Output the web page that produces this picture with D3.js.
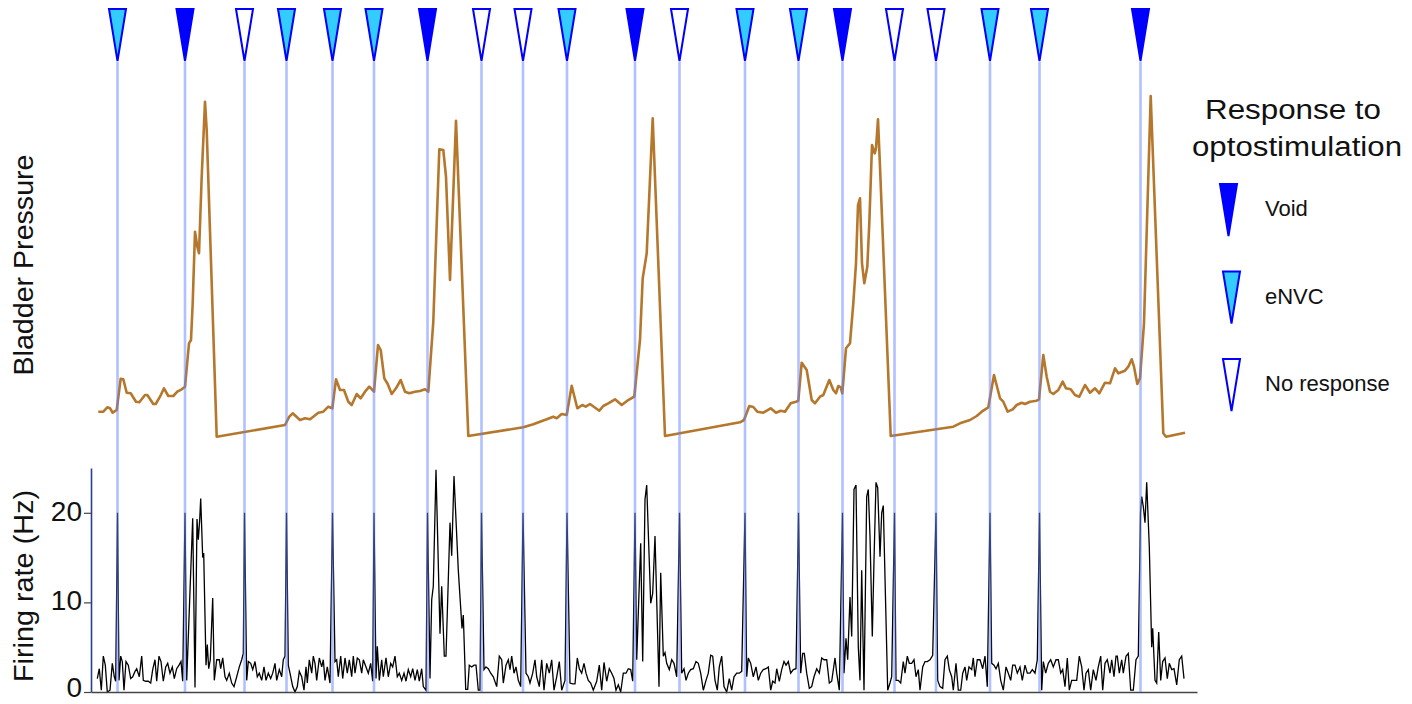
<!DOCTYPE html>
<html>
<head>
<meta charset="utf-8">
<script src="https://cdn.jsdelivr.net/npm/d3@7"></script>
<style>
  body { margin: 0; background: #fff; }
  svg { display: block; }
  text { font-family: "Liberation Sans", Arial, Helvetica, sans-serif; fill: #111; }
</style>
</head>
<body>
<svg width="1412" height="704"></svg>
<script>
// time in s from start of recording
const stimTimes = [26.5, 94, 153.5, 195.5, 241.5, 283, 336.5, 390.5, 432, 476,
    544, 588.5, 654, 707.5, 751.5, 803.5, 845, 899, 948.5, 1049.5];
const stimResponse = ["eNVC", "Void", "No response", "eNVC", "eNVC", "eNVC", "Void", "No response", "No response", "eNVC",
    "Void", "No response", "eNVC", "eNVC", "Void", "No response", "No response", "eNVC", "eNVC", "Void"];
const responseTypes = ["Void", "eNVC", "No response"];
const stimSpikeHz = 20;   // light artefact at each stimulus
const rateTicks = [0, 10, 20];

// bladder pressure (a.u.)
const pressure = [
    [7.3,28.3],[12.3,28.3],[16.3,32.7],[19,31.7],[21.7,27.3],[25.7,30],[29.7,61.3],[32.3,60.7],[35.7,47.3],[39.7,46.7],
    [45,38.3],[48.3,37.7],[54,45],[56.3,45],[62.3,36],[64.7,36],[69,43.3],[73,51.7],[77.3,44],[82.3,44],[86.3,48.3],
    [90.7,50.7],[94,53.3],[98,96.7],[100,100],[101.7,136.7],[104,208.3],[106.3,193.3],[108,186.7],[110.7,263.3],
    [114,338.3],[115.7,310],[125.7,3.3],[194,15],[198.3,23.3],[201.7,26.7],[209,20],[214,21.7],[219,20.7],[222.3,23.3],
    [227.3,27.3],[232.3,28.3],[237.3,33.3],[241.3,31.7],[245,60.7],[249,50],[253,50],[257.3,38.3],[260.7,35],[265.7,46],
    [269.7,41.7],[274,48.3],[278.3,53.3],[283,48.3],[287,95],[289.7,90],[293.3,61.7],[296.7,56],[300.7,46],[305,51.7],
    [309.7,60],[314,48.3],[318.3,46.7],[324,48.3],[329,49],[334,50.7],[337.3,48.3],[342.3,118.3],[348.3,290.7],
    [352.3,290],[355,263.3],[359,160],[365,319.3],[377.3,4],[432.3,12.7],[442.3,15.7],[449,18.3],[455.7,20.7],
    [462.3,23.3],[465.7,21.7],[470.7,26],[475.7,25],[480.7,54.3],[486.3,31.7],[491.3,35],[494.7,33.3],[499,36],
    [508.3,29.3],[512.3,34],[517.3,36.7],[524,40.7],[530.7,35],[536.3,39.3],[543.3,43.3],[549,100],[551.7,161.7],
    [555.7,186.7],[561.7,321.7],[574,4],[649,17.7],[653,20],[658.3,34],[662.3,33],[666.3,28.3],[672.3,27.3],
    [679.7,31.7],[685,27.3],[689.7,29.3],[694,28.3],[699.7,36.7],[705,38.3],[707.3,39.3],[710.7,77.3],[715.7,70],
    [720.7,40],[724,36.7],[729,43.3],[732.3,45],[738.3,60],[742.3,50],[745,46.7],[747.3,54],[749.7,52.7],[751.3,46.7],
    [755,91.7],[759,96.7],[762.3,136.7],[765,176.7],[767,235],[769,241.7],[771,176.7],[773.3,156.7],[776.3,173.3],
    [778.3,216.7],[781,295],[783.7,286.7],[785,291.7],[787,320.7],[789,273.3],[799.7,4],[862.3,13.3],[869,16.7],
    [879,20],[885.7,24],[890.7,28.3],[897.3,32.7],[903,65],[909,41.7],[912.3,38.3],[916.7,28.3],[921.7,30.7],[925.7,35],
    [930.7,37.3],[934,36],[939,38.3],[945.7,39.3],[948,40.7],[952.3,85],[955.7,63.3],[959,48.3],[962.3,46],[967.3,50],
    [971.7,58.3],[975,51.7],[979.7,50.7],[984,45],[988.3,43.3],[994,55],[999,47.3],[1004,51.7],[1008.3,46.7],
    [1014,57.3],[1019,56.7],[1024,71.7],[1027.3,66.7],[1034,69.3],[1037.3,73.3],[1040.7,80.7],[1043,73.3],[1046.3,56],
    [1049,61.7],[1053,116.7],[1059.7,344],[1072.3,6.7],[1075,3.3],[1094,7.3]
];

// firing rate (Hz), stimulus artefacts added below
const firing = [
    [6.3,1.5],[8.3,2.6],[10.3,0.2],[12.3,4.0],[14.3,3.0],[16.3,0.0],[19,0.2],[21.3,3.2],[23.3,1.7],[24.7,1.2],
    [28,1.3],[29.7,4.0],[31.3,3.4],[33,0.2],[35,3.4],[37.3,3.0],[39.7,1.5],[41.7,1.7],[44,2.3],[45.7,2.6],[48.3,1.7],
    [50.7,4.0],[52.3,1.3],[54.7,1.2],[57.3,1.2],[59.7,1.0],[61.7,2.5],[64,3.6],[65.7,1.2],[68,4.0],[70,3.4],[72.3,1.2],
    [74.7,2.8],[76.7,3.2],[79,2.1],[81.3,2.8],[83.3,1.5],[85.7,2.6],[88,3.0],[90,3.4],[91.7,1.2],
    [95.7,1.3],[101.7,19.4],[104,0.5],[106,19.3],[107.3,17],[108.7,19.2],[109.7,21.6],[111.7,15],[112.7,15.5],[115,3],
    [116.3,5.3],[117.7,2.6],[119.3,3.6],[121.7,10.5],[123.3,1.3],[125.7,3.6],[128.3,3.6],[129.7,2.6],[131.7,3.8],
    [134,1.7],[135.7,1.3],[138.3,2.1],[140.7,1.0],[143,0.6],[145.7,1.7],[148.3,2.8],[150.7,3.6],[152.3,4.3],
    [155.7,1.3],[157.3,3.4],[159.7,3.2],[161.7,2.5],[164,3.4],[166.3,1.7],[168.3,2.1],[170.7,1.3],[173,2.8],[175,1.3],
    [177.3,2.1],[179.7,1.5],[181.7,2.1],[184,3.2],[185.7,1.3],[188.3,2.5],[190.7,1.7],[192.3,3.6],[194,4.0],
    [197.3,3.0],[199,2.1],[201.7,0.6],[204,0.0],[206.3,0.6],[208.3,2.3],[210.7,1.7],[213,0.2],[215,2.8],[216.3,1.0],
    [218.3,3.6],[220.7,2.1],[222.3,4.0],[224,3.2],[225.7,1.3],[228.3,3.8],[230.7,2.8],[232.3,3.6],[234,1.3],[236.3,2.8],
    [239,1.0],
    [244,3.4],[245.7,3.6],[247.3,1.7],[249.7,4.0],[251.7,1.5],[254,3.8],[256.3,2.1],[258.3,3.6],[260.7,1.7],[262.3,4.0],
    [264,2.1],[266.3,3.8],[268.3,3.6],[270.7,2.1],[272.3,3.6],[275,2.8],[277.3,2.1],[279.7,3.2],[281.7,1.2],
    [285,1.5],[286.3,5.1],[288.3,1.3],[290.7,3.6],[292.3,1.7],[295,3.8],[297.3,1.7],[299.7,3.2],[301.7,2.8],[304,4.0],
    [306.3,1.7],[308.3,2.1],[310.7,1.3],[313,2.1],[315,1.2],[317.3,2.5],[319.7,1.7],[321.7,2.6],[324,1.3],[326.3,2.5],
    [328.3,1.2],[330.7,2.6],[332.3,0.6],[335,0.2],
    [339,1.5],[340.7,10.3],[342.3,11.8],[345,24.8],[349,6.5],[350.7,11.8],[353.3,4.0],[355,4.0],[359,18.9],[360.7,15.2],
    [363,24.1],[367.3,13.6],[371,7.1],[372.3,8.6],[374.7,0.3],[376.7,0.3],[378.3,3.0],[380.7,2.8],[383,3.0],[385,3.0],
    [387.3,0.2],[389,0.2],
    [393,2.5],[395,2.8],[397.3,2.6],[399.7,2.1],[402.3,1.7],[405.7,0.6],[408.3,4.0],[410.7,3.6],[412.3,1.0],[415,3.0],
    [417.3,3.6],[419,2.5],[420.7,4.0],[423,2.1],[425,2.8],[427.3,1.3],[429.7,0.6],
    [435,2.1],[437.3,1.7],[439,1.0],[441.7,2.1],[444,3.6],[445.7,1.7],[448.3,0.6],[450.7,3.6],[453,0.2],[455.7,3.2],
    [458.3,2.1],[460.7,3.6],[463,0.2],[465.7,1.7],[468.3,3.4],[470.7,0.2],[474,1.3],
    [479,1.0],[481.7,0.9],[484,0.9],[486.3,3.8],[488.3,2.6],[490.7,2.1],[493,3.2],[495,2.1],[497.3,1.3],[499.7,1.0],
    [502.3,0.2],[505.7,1.2],[508.3,3.0],[510.7,0.2],[513,3.3],[515.7,1.2],[518.3,2.6],[520.7,2.1],[523,1.5],[525,0.2],
    [527.3,0.8],[529.7,0.0],[532.3,2.1],[535,2.1],[537.3,2.6],[539.7,2.5],[541.7,1.2],
    [545.7,3.6],[549.7,16.6],[551.7,3.4],[554,21.5],[555.7,23.1],[559.7,9.9],[561.7,11.0],[564,17.4],[565.7,10.3],
    [568,0.6],[569.7,13.3],[572.3,4.0],[574,4.4],[575.7,3.2],[578.3,2.5],[580.7,3.6],[583,3.2],[585.7,1.7],
    [590.7,2.1],[593,2.6],[595,1.3],[597.3,2.1],[599.7,2.5],[602.3,2.6],[605,3.4],[607.3,3.2],[609.7,2.1],[612.3,0.2],
    [615,1.3],[617.3,2.1],[619.7,4.1],[621.7,4.0],[624,1.3],[626.3,0.2],[628.3,2.8],[630.7,4.0],[633,0.6],[635.7,0.0],
    [638.3,1.5],[640.7,0.2],[643,1.7],[645.7,2.1],[648.3,2.1],[650.7,2.3],
    [655.7,1.7],[657.3,3.8],[659.7,3.2],[662.3,1.7],[665,2.8],[667.3,1.3],[669.7,2.1],[672.3,2.5],[675,2.6],[677.3,2.8],
    [679.7,0.2],[681.7,1.2],[684,1.0],[685.7,2.6],[688.3,1.2],[690.7,2.5],[693,3.4],[695,3.0],[697.3,3.4],[699.7,2.1],
    [702.3,2.5],[705,2.6],
    [709.7,2.1],[711.7,4.3],[713.3,4.3],[715.7,2.1],[718.3,0.4],[720.7,0.6],[723,1.7],[725.7,2.6],[728.3,2.1],[730.7,3.8],
    [733,3.6],[735.7,3.6],[738.3,1.0],[740.7,1.2],[744,3.8],[745.7,2.1],[748.3,0.2],
    [753,2.1],[755,6.0],[756.7,3.6],[759,10.6],[760.7,6.2],[763,22.6],[765,23.1],[767.3,5.0],[769,1.3],[770.7,13.6],
    [773,0.2],[775.7,21.8],[777.3,22.6],[779,17.4],[781.3,6.2],[783,14.7],[785,23.4],[786.7,22.8],[789,15.1],
    [790.7,20.0],[792.3,20.8],[794.7,9.5],[796.7,0.2],[799,1.0],[800.7,1.7],
    [805,1.3],[807.3,1.3],[809.7,1.0],[812.3,3.4],[814,2.1],[816.3,4.0],[818.3,3.2],[820.7,3.2],[823,3.6],[825,1.7],
    [827.3,2.5],[829,0.2],[831.7,2.8],[834,3.4],[836.3,3.4],[839,3.6],[841.7,4.1],
    [846.7,1.3],[849,0.6],[851.7,0.4],[854,3.6],[856.3,4.0],[858.3,2.5],[860.7,1.7],[862.3,0.2],[865,3.2],[867.3,0.2],
    [869.7,0.2],[871.7,2.1],[874,2.8],[875.7,1.3],[878,2.8],[880.7,2.5],[882.3,3.8],[884,1.7],[886.3,3.6],[889,3.6],
    [891.7,2.6],[894,4.0],[896.3,0.6],
    [900.7,3.2],[903,3.0],[905,2.6],[907.3,3.2],[909.7,1.3],[912.3,0.2],[915,2.8],[917.3,2.1],[919.7,1.3],[921.7,3.0],
    [924,3.0],[926.3,2.1],[929,2.8],[931.3,1.3],[934,3.0],[936.3,2.1],[939,2.1],[941.3,2.5],[944,2.1],[946.3,3.6],
    [950.7,0.2],[952.3,3.4],[954.7,2.1],[957.3,3.2],[959.7,3.6],[962.3,2.8],[965,3.6],[967.3,3.6],[969.7,2.1],[971.7,2.5],
    [974,0.6],[976.3,3.8],[978.3,0.2],[980.7,1.3],[983,1.3],[985.7,1.3],[988.3,4.0],[990.7,2.8],[993,0.2],[995,2.1],
    [997.3,2.5],[999.7,0.2],[1002.3,2.5],[1005,1.3],[1007.3,2.8],[1009.7,4.0],[1011.7,0.2],[1014,3.2],[1016.3,3.6],
    [1019,2.1],[1020.7,3.6],[1023,1.7],[1025,4.0],[1026.3,4.0],[1028.3,2.1],[1030.7,3.6],[1032.3,2.1],[1035,4.0],
    [1037.3,4.3],[1039.7,0.2],[1042.3,0.2],[1045,3.6],[1047.3,4.0],
    [1050.7,21.8],[1052.3,20.7],[1054,18.9],[1055.7,23.4],[1058.3,16.2],[1060.7,5.0],[1061.7,7.1],[1064,1.3],
    [1065.7,1.0],[1067.7,6.7],[1069.7,1.3],[1071.7,3.4],[1074,3.8],[1076.3,1.5],[1078.3,3.2],[1080.7,2.5],[1083,2.6],
    [1085.7,0.8],[1088.3,3.6],[1090.7,4.0],[1093,1.5]
];

const markerFill = { "Void": "#0000ff", "eNVC": "#33ccff", "No response": "#ffffff" };

const svg = d3.select("svg");

const x = d3.scaleLinear().domain([0, 1106]).range([91, 1197]);
const yP = d3.scaleLinear().domain([0, 350]).range([440, 90]);
const yR = d3.scaleLinear().domain([0, 25]).range([692, 468]);

// pressure trace
svg.append("path")
    .datum(pressure)
    .attr("fill", "none")
    .attr("stroke", "#b5772c")
    .attr("stroke-width", 2.6)
    .attr("stroke-linejoin", "round")
    .attr("d", d3.line().x(d => x(d[0])).y(d => yP(d[1])));

// firing trace with stim artefacts merged in
const firingSeries = firing.concat(stimTimes.map(t => [t, stimSpikeHz]))
    .sort((a, b) => a[0] - b[0]);

svg.append("path")
    .datum(firingSeries)
    .attr("fill", "none")
    .attr("stroke", "#000")
    .attr("stroke-width", 1.3)
    .attr("d", d3.line().x(d => x(d[0])).y(d => yR(d[1])));

// axes
const yAxis = svg.append("g")
    .attr("transform", `translate(${x(0)},0)`)
    .call(d3.axisLeft(yR).tickValues(rateTicks).tickSize(7).tickSizeOuter(0).tickPadding(2));
yAxis.select(".domain").attr("stroke", "#2b3f8f").attr("stroke-width", 1.6);
yAxis.selectAll(".tick line").attr("stroke", "#444").attr("stroke-width", 1.2);
yAxis.selectAll(".tick text")
    .attr("font-size", 28)
    .attr("dy", d => d === 0 ? "0.15em" : "0.27em")
    .attr("font-family", "Liberation Sans, Arial, sans-serif")
    .attr("fill", "#111");

const xAxis = svg.append("g")
    .attr("transform", `translate(0,${yR(0)})`)
    .call(d3.axisBottom(x).tickValues([]).tickSizeOuter(0));
xAxis.select(".domain").attr("stroke", "#444").attr("stroke-width", 1.6);

// stimulus lines on top
svg.append("g").selectAll("line")
    .data(stimTimes)
    .join("line")
    .attr("x1", d => x(d)).attr("x2", d => x(d))
    .attr("y1", 62).attr("y2", yR(0))
    .attr("stroke", "rgb(100,130,255)")
    .attr("stroke-opacity", 0.5)
    .attr("stroke-width", 2.6);

// stimulus markers
const tri = (cx, top, bot, hw) => `M${cx - hw},${top}L${cx + hw},${top}L${cx},${bot}Z`;

svg.append("g").selectAll("path")
    .data(stimTimes)
    .join("path")
    .attr("d", d => tri(x(d), 9, 61, 8.5))
    .attr("fill", (d, i) => markerFill[stimResponse[i]])
    .attr("stroke", "#0000ff")
    .attr("stroke-width", 2);

// axis titles
svg.append("text")
    .attr("transform", "translate(33,265) rotate(-90)")
    .attr("text-anchor", "middle")
    .attr("font-size", 27)
    .attr("textLength", 221)
    .attr("lengthAdjust", "spacingAndGlyphs")
    .text("Bladder Pressure");

svg.append("text")
    .attr("transform", "translate(33,586) rotate(-90)")
    .attr("text-anchor", "middle")
    .attr("font-size", 27)
    .attr("textLength", 192)
    .attr("lengthAdjust", "spacingAndGlyphs")
    .text("Firing rate (Hz)");

// legend
const legend = svg.append("g");
legend.append("text")
    .attr("x", 1293).attr("y", 119)
    .attr("text-anchor", "middle")
    .attr("font-size", 27)
    .attr("textLength", 176)
    .attr("lengthAdjust", "spacingAndGlyphs")
    .text("Response to");
legend.append("text")
    .attr("x", 1297).attr("y", 156)
    .attr("text-anchor", "middle")
    .attr("font-size", 27)
    .attr("textLength", 210)
    .attr("lengthAdjust", "spacingAndGlyphs")
    .text("optostimulation");

const items = legend.selectAll("g.item")
    .data(responseTypes)
    .join("g")
    .attr("class", "item")
    .attr("transform", (d, i) => `translate(0,${184 + i * 87.5})`);

items.append("path")
    .attr("d", (d, i) => tri(i === 0 ? 1228.5 : 1231.5, 0, 52, 8.5))
    .attr("fill", d => markerFill[d])
    .attr("stroke", "#0000ff")
    .attr("stroke-width", 2);

items.append("text")
    .attr("x", 1265).attr("y", 32)
    .attr("font-size", 22)
    .text(d => d);
</script>
</body>
</html>
